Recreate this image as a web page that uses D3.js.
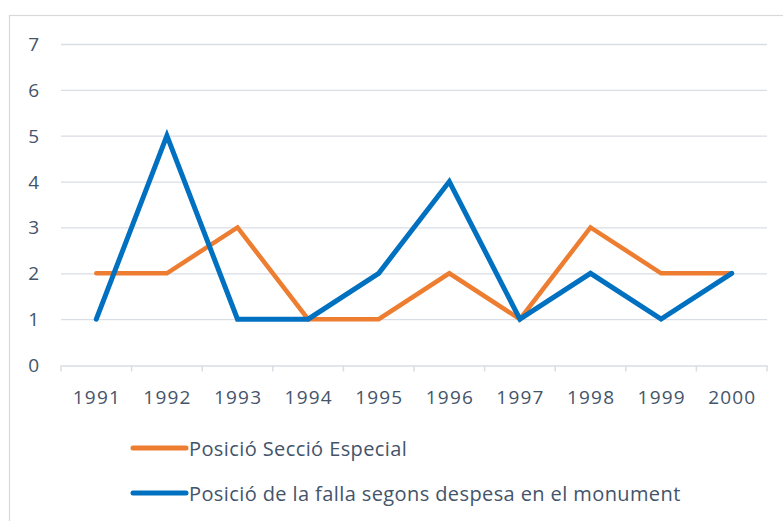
<!DOCTYPE html>
<html><head><meta charset="utf-8">
<script src="https://cdn.jsdelivr.net/npm/d3@7"></script>
<style>body{margin:0;background:#fff}svg{display:block}</style>
</head><body>
<svg id="c" width="783" height="521"></svg>
<script>
const years = ["1991","1992","1993","1994","1995","1996","1997","1998","1999","2000"];
const seccioEspecial = [2,2,3,1,1,2,1,3,2,2];
const despesaMonument = [1,5,1,1,2,4,1,2,1,2];
const yTicks = [0,1,2,3,4,5,6,7];
const seriesNames = ["Posició Secció Especial","Posició de la falla segons despesa en el monument"];
const colors = ["#ED7D31","#0070C0"];

const svg = d3.select("#c");
const font = "'Open Sans', sans-serif";
const txt = "#44546A";

svg.append("rect").attr("x",9.5).attr("y",15.5).attr("width",790).attr("height",520)
  .attr("fill","#fff").attr("stroke","#D9D9D9").attr("stroke-width",1.2);

const L=61, R=767, T=44, B=365;
const x = d3.scaleBand().domain(years).range([L,R]);
const y = d3.scaleLinear().domain([0,7]).range([B,T]);

const g = svg.append("g");
g.selectAll("line.grid").data(yTicks.filter(d=>d>0)).join("line")
  .attr("x1",L).attr("x2",R).attr("y1",d=>y(d)+0.5).attr("y2",d=>y(d)+0.5)
  .attr("stroke","#D9DDE5").attr("stroke-width",1.3);

const ya = svg.append("g").attr("transform",`translate(${L},0)`)
  .call(d3.axisLeft(y).tickValues(yTicks).tickSize(0).tickPadding(22).tickFormat(d3.format("d")));
ya.select(".domain").remove();
ya.selectAll("text").attr("font-family",font).attr("font-size",19).attr("fill",txt).attr("dy","0.34em");

const xa = svg.append("g").attr("transform",`translate(0,${B+0.5})`)
  .call(d3.axisBottom(x).tickSize(0));
xa.select(".domain").attr("stroke","#D9DDE5").attr("stroke-width",1.5);
xa.selectAll("text").attr("font-family",font).attr("font-size",19).attr("fill",txt)
  .attr("letter-spacing","1.2px").attr("y",38).attr("dy","0").attr("dx","0.6px");
xa.selectAll("line.bt").data(d3.range(years.length+1)).join("line").attr("class","bt")
  .attr("x1",i=>L+i*x.step()).attr("x2",i=>L+i*x.step()).attr("y1",0).attr("y2",6)
  .attr("stroke","#D9DDE5").attr("stroke-width",1.5);

const line = d3.line().x((d,i)=>x(years[i])+x.bandwidth()/2).y(d=>y(d));
[seccioEspecial, despesaMonument].forEach((s,k)=>{
  svg.append("path").datum(s).attr("d",line).attr("fill","none")
    .attr("stroke",colors[k]).attr("stroke-width",k?5:4.5)
    .attr("stroke-linejoin","miter").attr("stroke-linecap","round");
});

const lg = svg.append("g");
seriesNames.forEach((n,k)=>{
  const yy = 448 + k*45;
  lg.append("line").attr("x1",133).attr("x2",186).attr("y1",yy).attr("y2",yy)
    .attr("stroke",colors[k]).attr("stroke-width",5).attr("stroke-linecap","round");
  lg.append("text").attr("x",189).attr("y",yy+8).attr("letter-spacing","0.4px")
    .attr("font-family",font).attr("font-size",20).attr("fill",txt).text(n);
});
</script>
</body></html>
